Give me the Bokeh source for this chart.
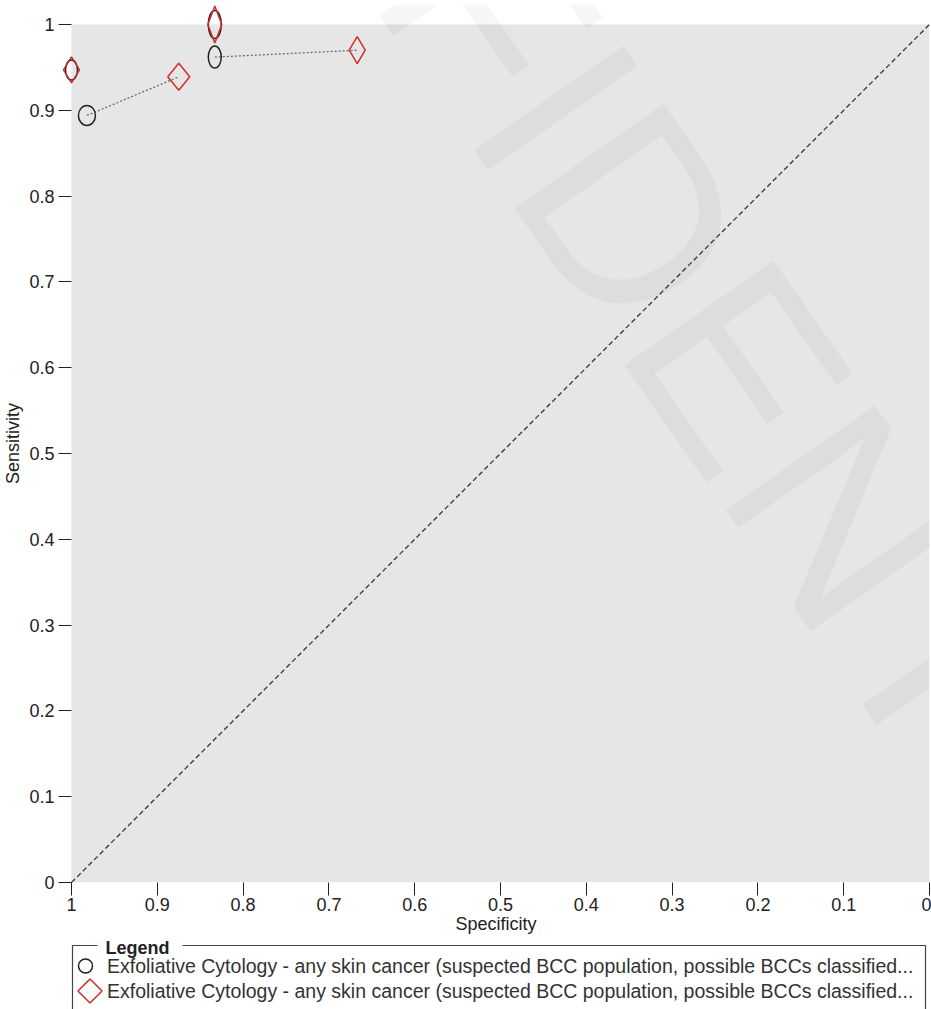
from bokeh.plotting import figure
from bokeh.models import Range1d, FixedTicker, Label
from bokeh.layouts import column
from bokeh.core.properties import value
from bokeh.embed import file_html
from bokeh.resources import INLINE

# ---------------- data ----------------
# paired results per study: test 1 (circles) and test 2 (diamonds)
spec_circle = [1.0, 0.982, 0.833, 0.833]
sens_circle = [0.947, 0.894, 0.962, 1.0]
spec_diamond = [1.0, 0.875, 0.667, 0.833]
sens_diamond = [0.947, 0.939, 0.970, 1.0]

diag_spec = [1.0, 0.0]
diag_sens = [0.0, 1.0]

ticks = [0.0, 0.1, 0.2, 0.3, 0.4, 0.5, 0.6, 0.7, 0.8, 0.9, 1.0]
tick_labels = ["0", "0.1", "0.2", "0.3", "0.4", "0.5", "0.6", "0.7", "0.8", "0.9", "1"]

legend_labels = [
    "Exfoliative Cytology - any skin cancer (suspected BCC population, possible BCCs classified...",
    "Exfoliative Cytology - any skin cancer (suspected BCC population, possible BCCs classified...",
]

# ---------------- styles ----------------
FONT = "Liberation Sans"
UNIT = 858                 # pixels per unit of sensitivity / specificity
PX = 1.0 / UNIT
PAD_L, PAD_T = 9, 20       # extra room so edge markers are not clipped
circle_w = [12, 17, 13, 13]  # marker widths / heights in pixels (study weights)
circle_h = [20, 20, 22, 28]
diamond_w = [16, 22, 16, 14]
diamond_h = [26, 27, 27, 37]
RED = "#d42a2a"
DARK = "#222222"

p = figure(frame_width=UNIT + PAD_L, frame_height=UNIT + PAD_T,
           x_range=Range1d(1 + PAD_L * PX, 0), y_range=Range1d(0, 1 + PAD_T * PX),
           output_backend="svg", toolbar_location=None,
           min_border_left=62, min_border_right=2, min_border_top=4, min_border_bottom=54,
           background_fill_color="white", border_fill_color="white",
           outline_line_color=None)
p.grid.visible = False

# grey plotting area 0..1 x 0..1
p.quad(left=[min(ticks)], right=[max(ticks)], bottom=[min(ticks)], top=[max(ticks)],
       fill_color="#e6e6e6", line_color=None, level="underlay")

# watermark
wm = Label(x=42, y=1420, x_units="screen", y_units="screen", text="CONFIDENTIAL",
           angle=-55, angle_units="deg", text_font=FONT, text_font_size="265px",
           text_color="black", text_alpha=0.035, text_align="left",
           text_baseline="alphabetic", level="underlay")
p.add_layout(wm)

for ax in (p.xaxis[0], p.yaxis[0]):
    ax.ticker = FixedTicker(ticks=ticks)
    ax.major_label_overrides = {t: l for t, l in zip(ticks, tick_labels)}
    ax.axis_line_color = None
    ax.major_tick_line_color = DARK
    ax.minor_tick_line_color = None
    ax.major_label_text_font = FONT
    ax.major_label_text_font_size = "18px"
    ax.major_label_text_color = DARK
    ax.axis_label_text_font = FONT
    ax.axis_label_text_font_size = "18px"
    ax.axis_label_text_font_style = "normal"
    ax.axis_label_text_color = DARK

# y axis sits PAD_L px left of the grey area: ticks reach in to it
p.yaxis.major_tick_in = PAD_L
p.yaxis.major_tick_out = 4
p.yaxis.major_label_standoff = 4
p.yaxis.axis_label = "Sensitivity"
p.yaxis.axis_label_standoff = 3

p.xaxis.major_tick_in = 0
p.xaxis.major_tick_out = 13
p.xaxis.axis_label = "Specificity"
p.xaxis.major_label_standoff = 2
p.xaxis.axis_label_standoff = 0

# chance line
p.line(diag_spec, diag_sens, line_color="#333333", line_width=1.3, line_dash="5 3")

# links between paired results
p.segment(x0=spec_circle, y0=sens_circle, x1=spec_diamond, y1=sens_diamond,
          line_color="#5c7373", line_width=1.3, line_dash="2 2")

# circles (test 1)
p.ellipse(x=spec_circle, y=sens_circle, width=circle_w, height=circle_h,
          width_units="screen", height_units="screen",
          fill_color=None, line_color=DARK, line_width=1.5)

# diamonds (test 2)
xs, ys = [], []
for s, e, w, h in zip(spec_diamond, sens_diamond, diamond_w, diamond_h):
    dx, dy = w / 2 * PX, h / 2 * PX
    xs.append([s - dx, s, s + dx, s])
    ys.append([e, e + dy, e, e - dy])
p.patches(xs, ys, fill_color=None, line_color=RED, line_width=1.5)

# ---------------- legend panel (coordinates = page pixels) ----------------
TOP, LH = 936, 73
leg = figure(frame_width=UNIT + PAD_L, frame_height=LH,
             x_range=Range1d(62, 929), y_range=Range1d(TOP + LH, TOP),
             output_backend="svg", toolbar_location=None,
             min_border_left=62, min_border_right=2, min_border_top=0, min_border_bottom=0,
             x_axis_type=None, y_axis_type=None, outline_line_color=None,
             background_fill_color="white", border_fill_color="white")
leg.grid.visible = False
leg.multi_line(xs=[[72, 72, 97], [182, 925, 925]], ys=[[1015, 945, 945], [945, 945, 1015]],
               line_color="#444444", line_width=1.2)
leg.text(x=[105], y=[947], text=["Legend"], text_font=value(FONT), text_font_style="bold",
         text_font_size="18px", text_baseline="middle", text_color=DARK)
leg.ellipse(x=[85], y=[965.5], width=14, height=14, fill_color=None,
            line_color=DARK, line_width=1.5)
leg.scatter(x=[89.5], y=[990.5], marker="square", size=17, angle=45, angle_units="deg",
            fill_color=None, line_color=RED, line_width=1.5)
leg.text(x=[106.5, 106.5], y=[965.5, 990.5], text=legend_labels, text_font=value(FONT),
         text_font_size="19.5px", text_baseline="middle", text_color="#333333")

layout = column(p, leg, spacing=0)
open("out.html", "w").write(file_html(layout, INLINE))
